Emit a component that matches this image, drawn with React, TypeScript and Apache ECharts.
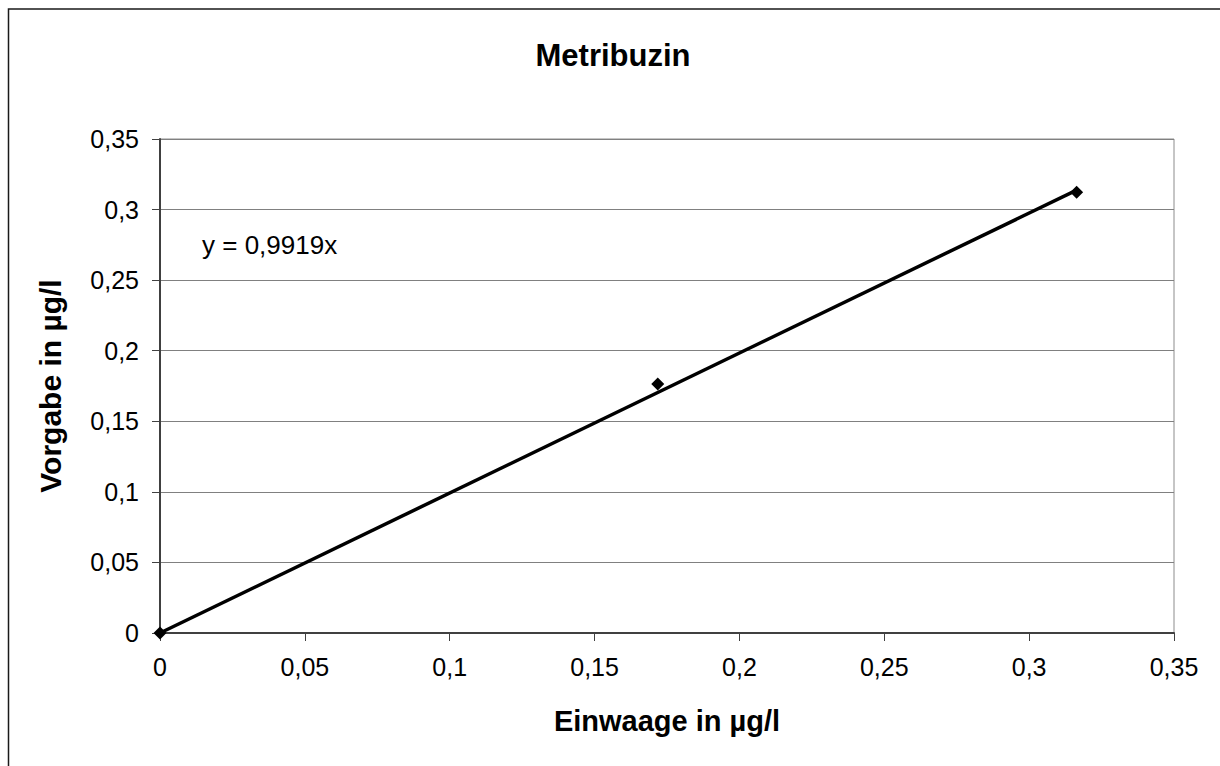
import React, { useEffect, useRef } from "react";
import * as echarts from "echarts";

const titleText = "Metribuzin";
const xName = "Einwaage in µg/l";
const yName = "Vorgabe in µg/l";
const equationText = "y = 0,9919x";
const einwaage = [0, 0.1718, 0.3164];
const vorgabe = [0, 0.1765, 0.3122];
const trendX = [0, 0.3164];
const trendY = [0, 0.3138];

const fmt = (v: number) => String(Number(v.toFixed(2))).replace(".", ",");

export default function App() {
  const ref = useRef<HTMLDivElement>(null);
  useEffect(() => {
    if (!ref.current) return;
    const chart = echarts.init(ref.current, undefined, { renderer: "svg" });
    const font = "Liberation Sans, Arial, sans-serif";
    chart.setOption({
      animation: false,
      backgroundColor: "#ffffff",
      textStyle: { fontFamily: font },
      grid: {
        left: 160,
        top: 139,
        right: 46,
        bottom: 133,
        show: true,
        borderColor: "#8c8c8c",
        borderWidth: 1,
      },
      graphic: [
        {
          type: "rect",
          shape: { x: 8.5, y: 9, width: 1230, height: 800 },
          style: { fill: "none", stroke: "#1a1a1a", lineWidth: 1.5 },
          silent: true,
          z: -1,
        },
        {
          type: "text",
          x: 613,
          y: 55,
          style: {
            text: titleText,
            fontFamily: font,
            fontSize: 31,
            fontWeight: "bold",
            fill: "#000",
            align: "center",
            verticalAlign: "middle",
          },
        },
        {
          type: "text",
          x: 202,
          y: 245,
          style: {
            text: equationText,
            fontFamily: font,
            fontSize: 26,
            fill: "#000",
            align: "left",
            verticalAlign: "middle",
          },
        },
      ],
      xAxis: {
        type: "value",
        min: 0,
        max: 0.35,
        interval: 0.05,
        name: xName,
        nameLocation: "middle",
        nameGap: 73,
        nameTextStyle: { fontSize: 29, fontWeight: "bold", color: "#000", fontFamily: font },
        axisLine: { show: true, lineStyle: { color: "#404040", width: 2 } },
        axisTick: { show: true, length: 8, inside: false, lineStyle: { color: "#404040", width: 1 } },
        axisLabel: { margin: 21, fontSize: 25, color: "#000", formatter: fmt, fontFamily: font },
        splitLine: { show: false },
      },
      yAxis: {
        type: "value",
        min: 0,
        max: 0.35,
        interval: 0.05,
        name: yName,
        nameLocation: "middle",
        nameGap: 95,
        nameTextStyle: { fontSize: 30, fontWeight: "bold", color: "#000", fontFamily: font },
        axisLine: { show: true, lineStyle: { color: "#404040", width: 2 } },
        axisTick: { show: true, length: 8, inside: false, lineStyle: { color: "#404040", width: 1 } },
        axisLabel: { margin: 21, fontSize: 25, color: "#000", formatter: fmt, fontFamily: font },
        splitLine: { show: true, lineStyle: { color: "#808080", width: 1 } },
      },
      series: [
        {
          type: "line",
          data: trendX.map((x, i) => [x, trendY[i]]),
          showSymbol: false,
          symbol: "none",
          lineStyle: { color: "#000", width: 3.5 },
          z: 2,
        },
        {
          type: "scatter",
          data: einwaage.map((x, i) => [x, vorgabe[i]]),
          symbol: "diamond",
          symbolSize: 13,
          itemStyle: { color: "#000", opacity: 1 },
          z: 3,
        },
      ],
    });
    return () => chart.dispose();
  }, []);
  return (
    <div
      ref={ref}
      style={{ position: "fixed", left: 0, top: 0, width: 1220, height: 766 }}
    />
  );
}
